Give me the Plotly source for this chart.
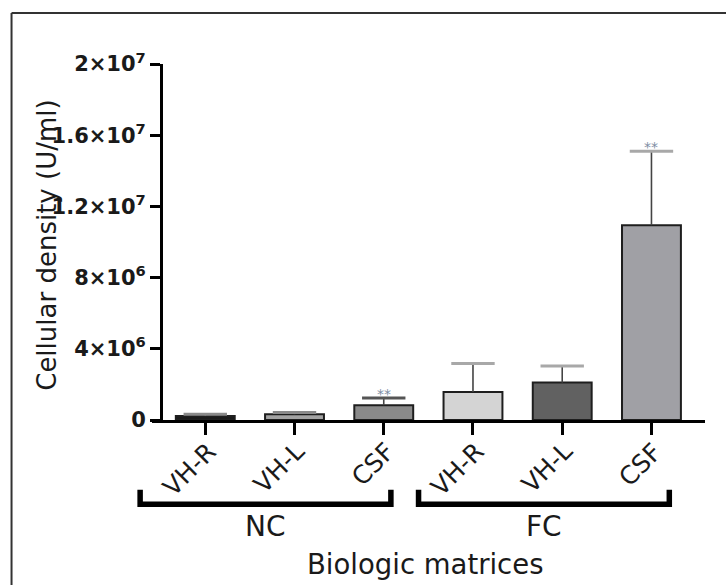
import plotly.graph_objects as go

# ---- data ----
categories = ["VH-R", "VH-L", "CSF", "VH-R", "VH-L", "CSF"]
groups = ["NC", "FC"]
group_members = [[0, 1, 2], [3, 4, 5]]
means = [0.22e6, 0.32e6, 0.83e6, 1.57e6, 2.10e6, 1.094e7]
err_up = [0.10e6, 0.10e6, 0.41e6, 1.61e6, 0.93e6, 0.416e7]
signif = ["", "", "**", "", "", "**"]
bar_colors = ["#1a1a1a", "#a3a3a3", "#8a8a8a", "#d4d4d4", "#616161", "#a0a0a5"]
cap_colors = ["#8a8a8a", "#8a8a8a", "#555555", "#a8a8a8", "#a8a8a8", "#a8a8a8"]
ytick_vals = [0, 4e6, 8e6, 1.2e7, 1.6e7, 2e7]
ytick_text = ["0", "4×10<sup>6</sup>", "8×10<sup>6</sup>", "1.2×10<sup>7</sup>",
              "1.6×10<sup>7</sup>", "2×10<sup>7</sup>"]
y_title = "Cellular density (U/ml)"
x_title = "Biologic matrices"
# bracket extents relative to first/last member index (category units)
bracket_pad = [(-0.73, 0.08), (-0.61, 0.20)]

FONT = "DejaVu Sans"
x_idx = list(range(len(categories)))
XMIN, XMAX = -0.597, 5.6

fig = go.Figure()
fig.add_trace(go.Bar(
    x=x_idx, y=means, width=0.66,
    marker=dict(color=bar_colors, line=dict(color="#1e1e1e", width=2)),
    error_y=dict(type="data", symmetric=False, array=err_up,
                 arrayminus=[0] * len(means), color="#444444",
                 thickness=1.6, width=0),
    showlegend=False, hoverinfo="skip",
))
# caps of error bars
fig.add_trace(go.Scatter(
    x=x_idx, y=[m + e for m, e in zip(means, err_up)], mode="markers",
    marker=dict(symbol="line-ew", size=31,
                line=dict(color=cap_colors, width=3)),
    showlegend=False, hoverinfo="skip",
))

annotations = []
for i, s in enumerate(signif):
    if s:
        annotations.append(dict(
            x=i, y=means[i] + err_up[i], xref="x", yref="y", text=s,
            showarrow=False, yanchor="bottom", yshift=-6,
            font=dict(family=FONT, size=14, color="#7d8ca3")))

# rotated category labels
for i, c in enumerate(categories):
    annotations.append(dict(
        x=i, y=0, xref="x", yref="y", text=c, showarrow=False,
        textangle=-45, xanchor="right", yanchor="top",
        xshift=19, yshift=-14,
        font=dict(family=FONT, size=25, color="#1a1a1a")))

def px_to_paper(v):
    return (v - XMIN) / (XMAX - XMIN)

shapes = []
for g, members, (lp, rp) in zip(groups, group_members, bracket_pad):
    x0 = px_to_paper(members[0] + lp)
    x1 = px_to_paper(members[-1] + rp)
    shapes.append(dict(type="path", xref="paper", yref="paper",
                       path=f"M {x0},-0.196 L {x0},-0.237 L {x1},-0.237 L {x1},-0.196",
                       line=dict(color="black", width=5.5)))
    annotations.append(dict(x=(x0 + x1) / 2, y=-0.298, xref="paper", yref="paper",
                            text=g, showarrow=False, xanchor="center",
                            yanchor="middle",
                            font=dict(family=FONT, size=28, color="#1a1a1a")))

annotations.append(dict(x=0.495, y=-0.405, xref="paper", yref="paper",
                        text=x_title, showarrow=False, xanchor="center",
                        yanchor="middle",
                        font=dict(family=FONT, size=27.5, color="#1a1a1a")))
annotations.append(dict(x=-0.19, y=0.492, xref="paper", yref="paper",
                        text=y_title, showarrow=False, textangle=-90,
                        xanchor="center", yanchor="middle",
                        font=dict(family=FONT, size=26, color="#1a1a1a")))

# outer frame (left and top edges visible)
shapes.append(dict(type="line", xref="paper", yref="paper", x0=-0.254, x1=-0.254,
                   y0=1.143, y1=-0.6, line=dict(color="#333333", width=2)))
shapes.append(dict(type="line", xref="paper", yref="paper", x0=-0.254, x1=1.1,
                   y0=1.143, y1=1.143, line=dict(color="#333333", width=2)))

fig.update_layout(
    width=726, height=585,
    margin=dict(l=152, r=21, t=64, b=165, pad=0),
    paper_bgcolor="white", plot_bgcolor="white",
    bargap=0.3,
    xaxis=dict(range=[XMIN, XMAX], tickmode="array", tickvals=x_idx,
               showticklabels=False, showline=True,
               linecolor="black", linewidth=3, ticks="outside", ticklen=12,
               tickwidth=3, tickcolor="black", showgrid=False, zeroline=False),
    yaxis=dict(range=[0, 2e7], tickmode="array", tickvals=ytick_vals,
               ticktext=ytick_text, anchor="free", position=0.0163,
               showline=True, linecolor="black", linewidth=3,
               ticks="outside", ticklen=10, tickwidth=3, tickcolor="black",
               showgrid=False, zeroline=False,
               tickfont=dict(family=FONT, size=21, color="#1a1a1a",
                             weight="bold")),
    shapes=shapes, annotations=annotations,
)

fig.write_html("out.html")
